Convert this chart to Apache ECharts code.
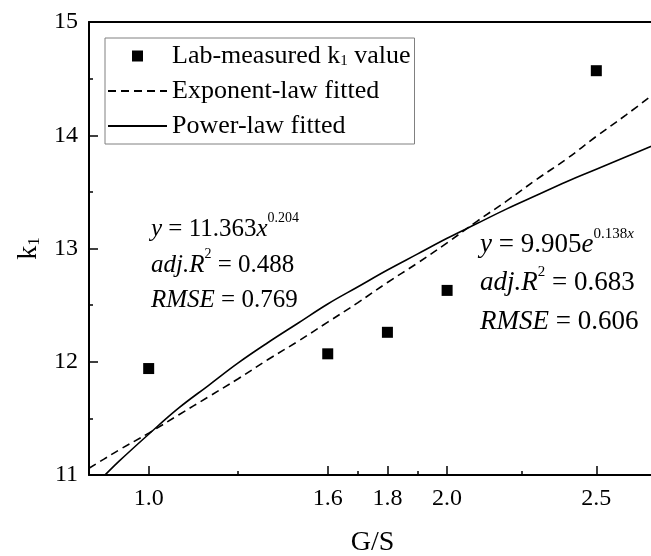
<!DOCTYPE html>
<html>
<head>
<meta charset="utf-8">
<script src="https://cdn.jsdelivr.net/npm/echarts@6/dist/echarts.min.js"></script>
<style>
  html, body { margin: 0; padding: 0; background: #fff; }
  #chart { width: 651px; height: 556px; }
</style>
</head>
<body>
<div id="chart"></div>
<script>
// Lab measurements of k1 against G/S
const gsValues = [1.0, 1.6, 1.8, 2.0, 2.5];
const k1Measured = [11.94, 12.07, 12.26, 12.63, 14.57];

// Fitted curves sampled along G/S
const fitX = [0.80, 0.85, 0.90, 1.00, 1.10, 1.20, 1.30, 1.40, 1.50, 1.60, 1.70,
              1.80, 1.90, 2.00, 2.10, 2.20, 2.30, 2.40, 2.50, 2.60, 2.70];
const expFit = [11.06, 11.14, 11.22, 11.37, 11.53, 11.69, 11.85, 12.02, 12.18, 12.35, 12.52,
                12.70, 12.87, 13.05, 13.24, 13.42, 13.61, 13.79, 13.99, 14.18, 14.38];
const powFit = [10.86, 10.99, 11.12, 11.36, 11.59, 11.79, 11.99, 12.17, 12.34, 12.51, 12.66,
                12.81, 12.95, 13.09, 13.22, 13.35, 13.47, 13.59, 13.70, 13.81, 13.92];

// Axis ticks
const xMajorTicks = [1.0, 1.6, 1.8, 2.0, 2.5];
const xMinorTicks = [1.3, 1.7, 1.9, 2.25, 2.75];
const yTicks = [11, 12, 13, 14, 15];

const serif = '"Liberation Serif", "Times New Roman", serif';

const pair = (xs, ys) => xs.map((x, i) => [x, ys[i]]);

const chart = echarts.init(document.getElementById('chart'), null, { renderer: 'canvas' });

const xRange = { min: 0.8, max: 2.7 };

// Rich styles for the fit equations (italic symbols, superscripts)
function eqRich(size) {
  const sup = Math.round(size * 0.56);
  return {
    n: { fontFamily: serif, fontSize: size, lineHeight: 36 },
    i: { fontFamily: serif, fontSize: size, fontStyle: 'italic', lineHeight: 36 },
    hi: { fontFamily: serif, fontSize: sup, lineHeight: 8, verticalAlign: 'top' },
    hii: { fontFamily: serif, fontSize: sup, fontStyle: 'italic', lineHeight: 8, verticalAlign: 'top' },
    lo: { fontFamily: serif, fontSize: sup, lineHeight: 34, verticalAlign: 'top' }
  };
}

function note(x, y, text, size) {
  return {
    type: 'text',
    x: x,
    y: y,
    silent: true,
    style: {
      text: text,
      rich: eqRich(size),
      fill: '#000',
      textAlign: 'left',
      textVerticalAlign: 'middle',
      font: size + 'px ' + serif
    }
  };
}

const option = {
  backgroundColor: '#fff',
  animation: false,
  grid: { left: 89, top: 22, width: 567, height: 453, containLabel: false, outerBoundsMode: 'none' },
  legend: {
    orient: 'vertical',
    left: 105,
    top: 38,
    padding: [5, 4, 5, 2],
    itemWidth: 59,
    itemHeight: 11,
    itemGap: 9,
    borderColor: '#808080',
    borderWidth: 1,
    backgroundColor: '#fff',
    textStyle: {
      fontFamily: serif,
      fontSize: 26,
      lineHeight: 26,
      color: '#000',
      rich: {
        sub: { fontFamily: serif, fontSize: 15, verticalAlign: 'bottom', lineHeight: 20, color: '#000' }
      }
    },
    data: [
      { name: 'Lab-measured k1 value', icon: 'path://M0,0M59,11M24,0H35V11H24Z', symbolKeepAspect: true },
      { name: 'Exponent-law fitted', itemStyle: { opacity: 0 } },
      { name: 'Power-law fitted', itemStyle: { opacity: 0 } }
    ],
    formatter: function (name) {
      return name === 'Lab-measured k1 value' ? 'Lab-measured k{sub|1} value' : name;
    }
  },
  xAxis: [
    {
      type: 'value',
      min: xRange.min,
      max: xRange.max,
      position: 'bottom',
      name: 'G/S',
      nameLocation: 'middle',
      nameGap: 54,
      nameTextStyle: { fontFamily: serif, fontSize: 28, color: '#000' },
      axisLine: { show: true, lineStyle: { color: '#000', width: 2 } },
      axisTick: { show: true, inside: true, length: 9, customValues: xMajorTicks, lineStyle: { color: '#000', width: 1.5 } },
      axisLabel: {
        show: true, margin: 12, customValues: xMajorTicks,
        fontFamily: serif, fontSize: 24, color: '#000',
        formatter: v => v.toFixed(1)
      },
      splitLine: { show: false }
    },
    {
      type: 'value',
      min: xRange.min,
      max: xRange.max,
      position: 'bottom',
      axisLine: { show: false },
      axisTick: { show: true, inside: true, length: 4, customValues: xMinorTicks, lineStyle: { color: '#000', width: 1.5 } },
      axisLabel: { show: false },
      splitLine: { show: false }
    },
    {
      type: 'value',
      min: xRange.min,
      max: xRange.max,
      position: 'top',
      axisLine: { show: true, lineStyle: { color: '#000', width: 2 } },
      axisTick: { show: false },
      axisLabel: { show: false },
      splitLine: { show: false }
    }
  ],
  yAxis: [
    {
      type: 'value',
      min: 11,
      max: 15,
      interval: 1,
      position: 'left',
      name: 'k{sub|1}',
      nameLocation: 'middle',
      nameGap: 46,
      nameRotate: 90,
      nameTextStyle: {
        fontFamily: serif, fontSize: 28, color: '#000',
        rich: { sub: { fontFamily: serif, fontSize: 17, verticalAlign: 'bottom', lineHeight: 24 } }
      },
      axisLine: { show: true, lineStyle: { color: '#000', width: 2 } },
      axisTick: { show: true, inside: true, length: 9, lineStyle: { color: '#000', width: 1.5 } },
      minorTick: { show: true, splitNumber: 2, length: 4, lineStyle: { color: '#000', width: 1.5 } },
      axisLabel: {
        margin: 11, fontFamily: serif, fontSize: 24, color: '#000',
        customValues: yTicks
      },
      splitLine: { show: false }
    },
    {
      type: 'value',
      min: 11,
      max: 15,
      position: 'right',
      axisLine: { show: true, lineStyle: { color: '#000', width: 2 } },
      axisTick: { show: false },
      axisLabel: { show: false },
      splitLine: { show: false }
    }
  ],
  series: [
    {
      name: 'Lab-measured k1 value',
      type: 'scatter',
      xAxisIndex: 0,
      yAxisIndex: 0,
      symbol: 'rect',
      symbolSize: 11,
      itemStyle: { color: '#000', opacity: 1 },
      data: pair(gsValues, k1Measured),
      z: 5
    },
    {
      name: 'Exponent-law fitted',
      type: 'line',
      xAxisIndex: 0,
      yAxisIndex: 0,
      showSymbol: false,
      smooth: 0.4,
      clip: true,
      lineStyle: { color: '#000', width: 1.6, type: [8, 5] },
      itemStyle: { color: '#000' },
      data: pair(fitX, expFit)
    },
    {
      name: 'Power-law fitted',
      type: 'line',
      xAxisIndex: 0,
      yAxisIndex: 0,
      showSymbol: false,
      smooth: 0.4,
      clip: true,
      lineStyle: { color: '#000', width: 1.6, type: 'solid' },
      itemStyle: { color: '#000' },
      data: pair(fitX, powFit)
    }
  ],
  graphic: [
    note(151, 229, '{i|y}{n| = 11.363}{i|x}{hi|0.204}', 25),
    note(151, 265, '{i|adj.R}{lo|2}{n| = 0.488}', 25),
    note(151, 300, '{i|RMSE}{n| = 0.769}', 25),
    note(480, 245, '{i|y}{n| = 9.905}{i|e}{hi|0.138}{hii|x}', 27),
    note(480, 283, '{i|adj.R}{lo|2}{n| = 0.683}', 27),
    note(480, 322, '{i|RMSE}{n| = 0.606}', 27)
  ]
};

chart.setOption(option);
</script>
</body>
</html>
